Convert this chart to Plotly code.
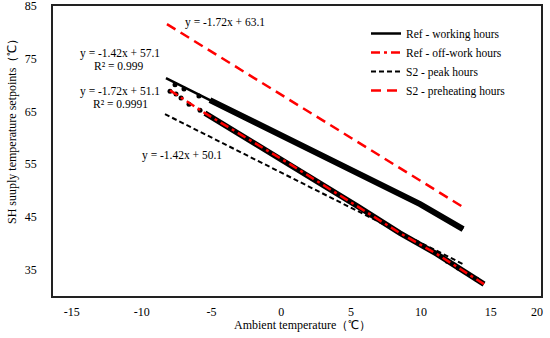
import plotly.graph_objects as go

# ---- data ----
# Ref - working hours: dense band and sparse leading points
ref_work_x = [-8.26, -5.11, 0.62, 5.42, 9.94, 13.02]
ref_work_y = [71.31, 67.15, 59.75, 53.50, 47.43, 42.69]
ref_work_dots_x = [-7.61, -6.97, -5.90]
ref_work_dots_y = [70.05, 69.25, 67.95]

# Ref - off-work hours
ref_off_x = [-7.97, -5.47, 0.62, 5.42, 8.50, 11.15, 14.52]
ref_off_y = [69.00, 64.68, 55.01, 47.10, 41.93, 37.95, 32.24]
ref_off_dots_x = [-7.97, -7.54, -7.18, -6.61, -5.82, 11.89, 12.67, 14.00]
ref_off_dots_y = [68.85, 68.29, 67.53, 66.39, 65.25, 36.60, 35.30, 33.20]

# S2 lines
s2_peak_x = [-8.33, 13.16]
s2_peak_y = [64.49, 35.86]
s2_pre_x = [-8.19, 13.02]
s2_pre_y = [81.56, 46.86]

x_ticks = [-15, -10, -5, 0, 5, 10, 15]
x_tick_labels = ["-15", "-10", "-5", "0", "5", "10", "15"]
y_ticks = [35, 45, 55, 65, 75, 85]
y_tick_labels = ["35", "45", "55", "65", "75", "85"]

FONT = "Liberation Serif"

fig = go.Figure()

# dense data bands (no legend)
fig.add_trace(go.Scatter(x=ref_work_x[1:], y=ref_work_y[1:], mode="lines",
                         line=dict(color="black", width=6), showlegend=False,
                         hoverinfo="skip"))
fig.add_trace(go.Scatter(x=ref_work_dots_x, y=ref_work_dots_y, mode="markers",
                         marker=dict(color="black", size=5), showlegend=False,
                         hoverinfo="skip"))
fig.add_trace(go.Scatter(x=ref_off_x[1:], y=ref_off_y[1:], mode="lines",
                         line=dict(color="black", width=5.5), showlegend=False,
                         hoverinfo="skip"))
fig.add_trace(go.Scatter(x=ref_off_dots_x, y=ref_off_dots_y, mode="markers",
                         marker=dict(color="black", size=5), showlegend=False,
                         hoverinfo="skip"))

# legend lines
fig.add_trace(go.Scatter(x=ref_work_x, y=ref_work_y, mode="lines",
                         name="Ref - working hours", legendrank=1,
                         line=dict(color="black", width=2.5)))
fig.add_trace(go.Scatter(x=s2_peak_x, y=s2_peak_y, mode="lines",
                         name="S2 - peak hours", legendrank=3,
                         line=dict(color="black", width=2, dash="5px,3px")))
fig.add_trace(go.Scatter(x=s2_pre_x, y=s2_pre_y, mode="lines",
                         name="S2 - preheating hours", legendrank=4,
                         line=dict(color="#ff0000", width=2.5, dash="10px,6px")))
fig.add_trace(go.Scatter(x=ref_off_x, y=ref_off_y, mode="lines",
                         name="Ref - off-work hours", legendrank=2,
                         line=dict(color="#ff0000", width=2.5, dash="9px,4px,3px,4px")))

ann_font = dict(family=FONT, size=11.5, color="black")
annotations = [
    dict(x=225, y=22, text="y = -1.72x + 63.1"),
    dict(x=120, y=53, text="y = -1.42x + 57.1"),
    dict(x=118, y=66, text="R² = 0.999"),
    dict(x=120, y=91, text="y = -1.72x + 51.1"),
    dict(x=120, y=104, text="R² = 0.9991"),
    dict(x=182, y=155, text="y = -1.42x + 50.1"),
]
L, R, T, B = 53, 9, 6, 42
W, H = 550, 338
pw, ph = W - L - R, H - T - B


def px2paper(px, py):
    return (px - L) / pw, (H - B - py) / ph


ann_list = []
for a in annotations:
    xp, yp = px2paper(a["x"], a["y"])
    ann_list.append(dict(x=xp, y=yp, xref="paper", yref="paper", text=a["text"],
                         showarrow=False, font=ann_font, xanchor="center",
                         yanchor="middle"))
# right-most x tick label
xp, yp = px2paper(537, 312)
ann_list.append(dict(x=xp, y=yp, xref="paper", yref="paper", text="20",
                     showarrow=False, font=dict(family=FONT, size=12, color="black"),
                     xanchor="center", yanchor="middle"))
# y axis title
xp, yp = px2paper(12, 129)
ann_list.append(dict(x=xp, y=yp, xref="paper", yref="paper",
                     text="SH suuply temperature setpoints（℃）", textangle=-90,
                     showarrow=False, font=dict(family=FONT, size=12, color="black"),
                     xanchor="center", yanchor="middle"))
# x axis title
xp, yp = px2paper(302, 325)
ann_list.append(dict(x=xp, y=yp, xref="paper", yref="paper",
                     text="Ambient temperature（℃）",
                     showarrow=False, font=dict(family=FONT, size=12, color="black"),
                     xanchor="center", yanchor="middle"))

lx, ly = px2paper(366, 19)
fig.update_layout(
    width=W, height=H,
    margin=dict(l=L, r=R, t=T, b=B, autoexpand=False),
    paper_bgcolor="white", plot_bgcolor="white",
    font=dict(family=FONT, size=12, color="black"),
    showlegend=True,
    legend=dict(x=lx, y=ly, xanchor="left", yanchor="top",
                bgcolor="rgba(0,0,0,0)", font=dict(family=FONT, size=11.5),
                itemwidth=30, tracegroupgap=0),
    annotations=ann_list,
    xaxis=dict(range=[-16.35, 18.6], tickvals=x_ticks, ticktext=x_tick_labels,
               showgrid=False, automargin=False, ticklabeloverflow="allow",
               zeroline=False, showline=True, linecolor="#222", linewidth=1.5,
               mirror=True, ticks="", ticklabelstandoff=4,
               tickfont=dict(family=FONT, size=12)),
    yaxis=dict(range=[30, 85], tickvals=y_ticks, ticktext=y_tick_labels,
               showgrid=False, automargin=False, ticklabeloverflow="allow",
               zeroline=False, showline=True, linecolor="#222", linewidth=1.5,
               mirror=True, ticks="", ticklabelstandoff=12,
               tickfont=dict(family=FONT, size=12)),
)

fig.write_html("out.html", config={"displayModeBar": False},
               post_script="document.body.style.margin='0';"
                           "document.body.style.overflow='hidden';")
